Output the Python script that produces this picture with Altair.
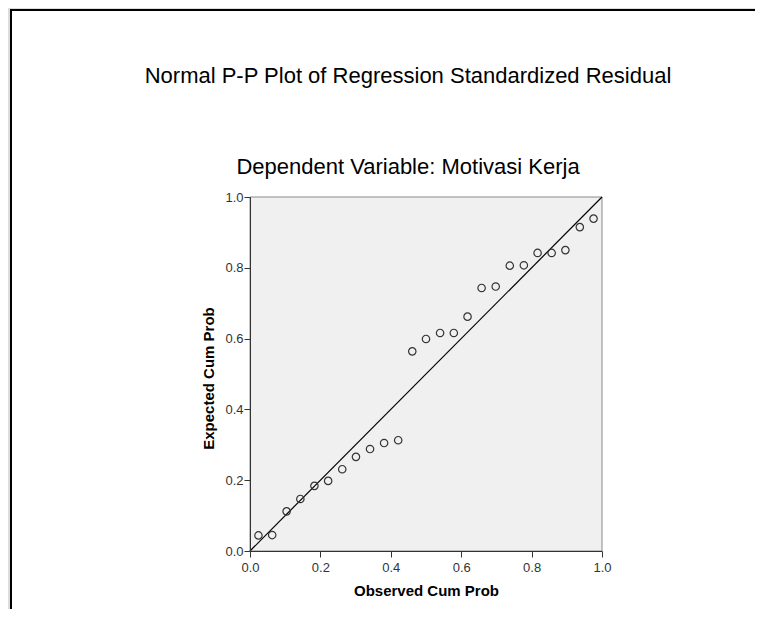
import altair as alt
import pandas as pd

# ---- data ----
observed = [0.024, 0.063, 0.104, 0.143, 0.183, 0.222, 0.262, 0.301, 0.341, 0.381,
            0.421, 0.461, 0.500, 0.540, 0.579, 0.618, 0.658, 0.698, 0.738, 0.778,
            0.817, 0.857, 0.896, 0.937, 0.976]
expected = [0.044, 0.045, 0.112, 0.147, 0.184, 0.198, 0.231, 0.266, 0.288, 0.305,
            0.313, 0.564, 0.599, 0.616, 0.616, 0.662, 0.743, 0.747, 0.806, 0.807,
            0.842, 0.842, 0.850, 0.915, 0.939]
diag_x = [0.0, 1.0]
diag_y = [0.0, 1.0]
tick_values = [0.0, 0.2, 0.4, 0.6, 0.8, 1.0]
main_title = ["Normal P-P Plot of Regression Standardized Residual"]
sub_title = ["Dependent Variable: Motivasi Kerja"]
x_title = "Observed Cum Prob"
y_title = "Expected Cum Prob"

FONT = "Liberation Sans, Arial, sans-serif"
W, H = 352, 354

pts = pd.DataFrame({"observed": observed, "expected": expected})
diag = pd.DataFrame({"observed": diag_x, "expected": diag_y})
bg = pd.DataFrame({"observed": [0.0], "observed2": [1.0], "expected": [0.0], "expected2": [1.0]})
one = pd.DataFrame({"k": [0]})

xscale = alt.Scale(domain=[0, 1], nice=False, zero=False)
yscale = alt.Scale(domain=[0, 1], nice=False, zero=False)

xaxis = alt.Axis(values=tick_values, format=".1f", title=x_title, grid=False,
                 labelFont=FONT, labelFontSize=13, labelColor="#333333", labelPadding=4,
                 labelFlush=False, labelOverlap=False,
                 tickSize=6, tickColor="#333333", domainColor="#333333", zindex=1,
                 titleFont=FONT, titleFontSize=15, titleFontWeight="bold", titleColor="black",
                 titleX=W / 2, titleY=39, titleAlign="center", titleBaseline="middle")
yaxis = alt.Axis(values=tick_values, format=".1f", title=y_title, grid=False,
                 labelFont=FONT, labelFontSize=13, labelColor="#333333", labelPadding=1,
                 labelFlush=False, labelOverlap=False,
                 tickSize=6, tickColor="#333333", domainColor="#333333", zindex=1,
                 titleFont=FONT, titleFontSize=15, titleFontWeight="bold", titleColor="black",
                 titleX=-42, titleY=H / 2 + 4, titleAngle=-90, titleAlign="center",
                 titleBaseline="middle")

X = alt.X("observed:Q", scale=xscale, axis=xaxis)
Y = alt.Y("expected:Q", scale=yscale, axis=yaxis)

frame = alt.Chart(one).mark_rect(fill="white", stroke="black", strokeWidth=2).encode(
    x=alt.value(-239), x2=alt.value(700), y=alt.value(-187), y2=alt.value(600))

plot_bg = alt.Chart(bg).mark_rect(fill="#f0f0f0", stroke="#8a8a8a", strokeWidth=1).encode(
    x=X, x2="observed2:Q", y=Y, y2="expected2:Q")

line = alt.Chart(diag).mark_line(color="black", strokeWidth=1.2).encode(x=X, y=Y)

points = alt.Chart(pts).mark_point(shape="circle", filled=False, size=55,
                                   stroke="#333333", strokeWidth=1.2, opacity=1).encode(x=X, y=Y)

t1 = alt.Chart(pd.DataFrame({"t": main_title})).mark_text(
    font=FONT, fontSize=22, color="black", align="center", baseline="middle").encode(
    text="t:N", x=alt.value(158), y=alt.value(-121))
t2 = alt.Chart(pd.DataFrame({"t": sub_title})).mark_text(
    font=FONT, fontSize=22, color="black", align="center", baseline="middle").encode(
    text="t:N", x=alt.value(158), y=alt.value(-30))

chart = alt.layer(frame, plot_bg, line, points, t1, t2).properties(
    width=W, height=H,
    autosize=alt.AutoSizeParams(type="none"),
    padding={"left": 242, "top": 189, "right": 153, "bottom": 58},
    background="#dcdcdc",
).configure_view(stroke=None)

chart.save("out.html", embed_options={"renderer": "svg", "actions": False})
